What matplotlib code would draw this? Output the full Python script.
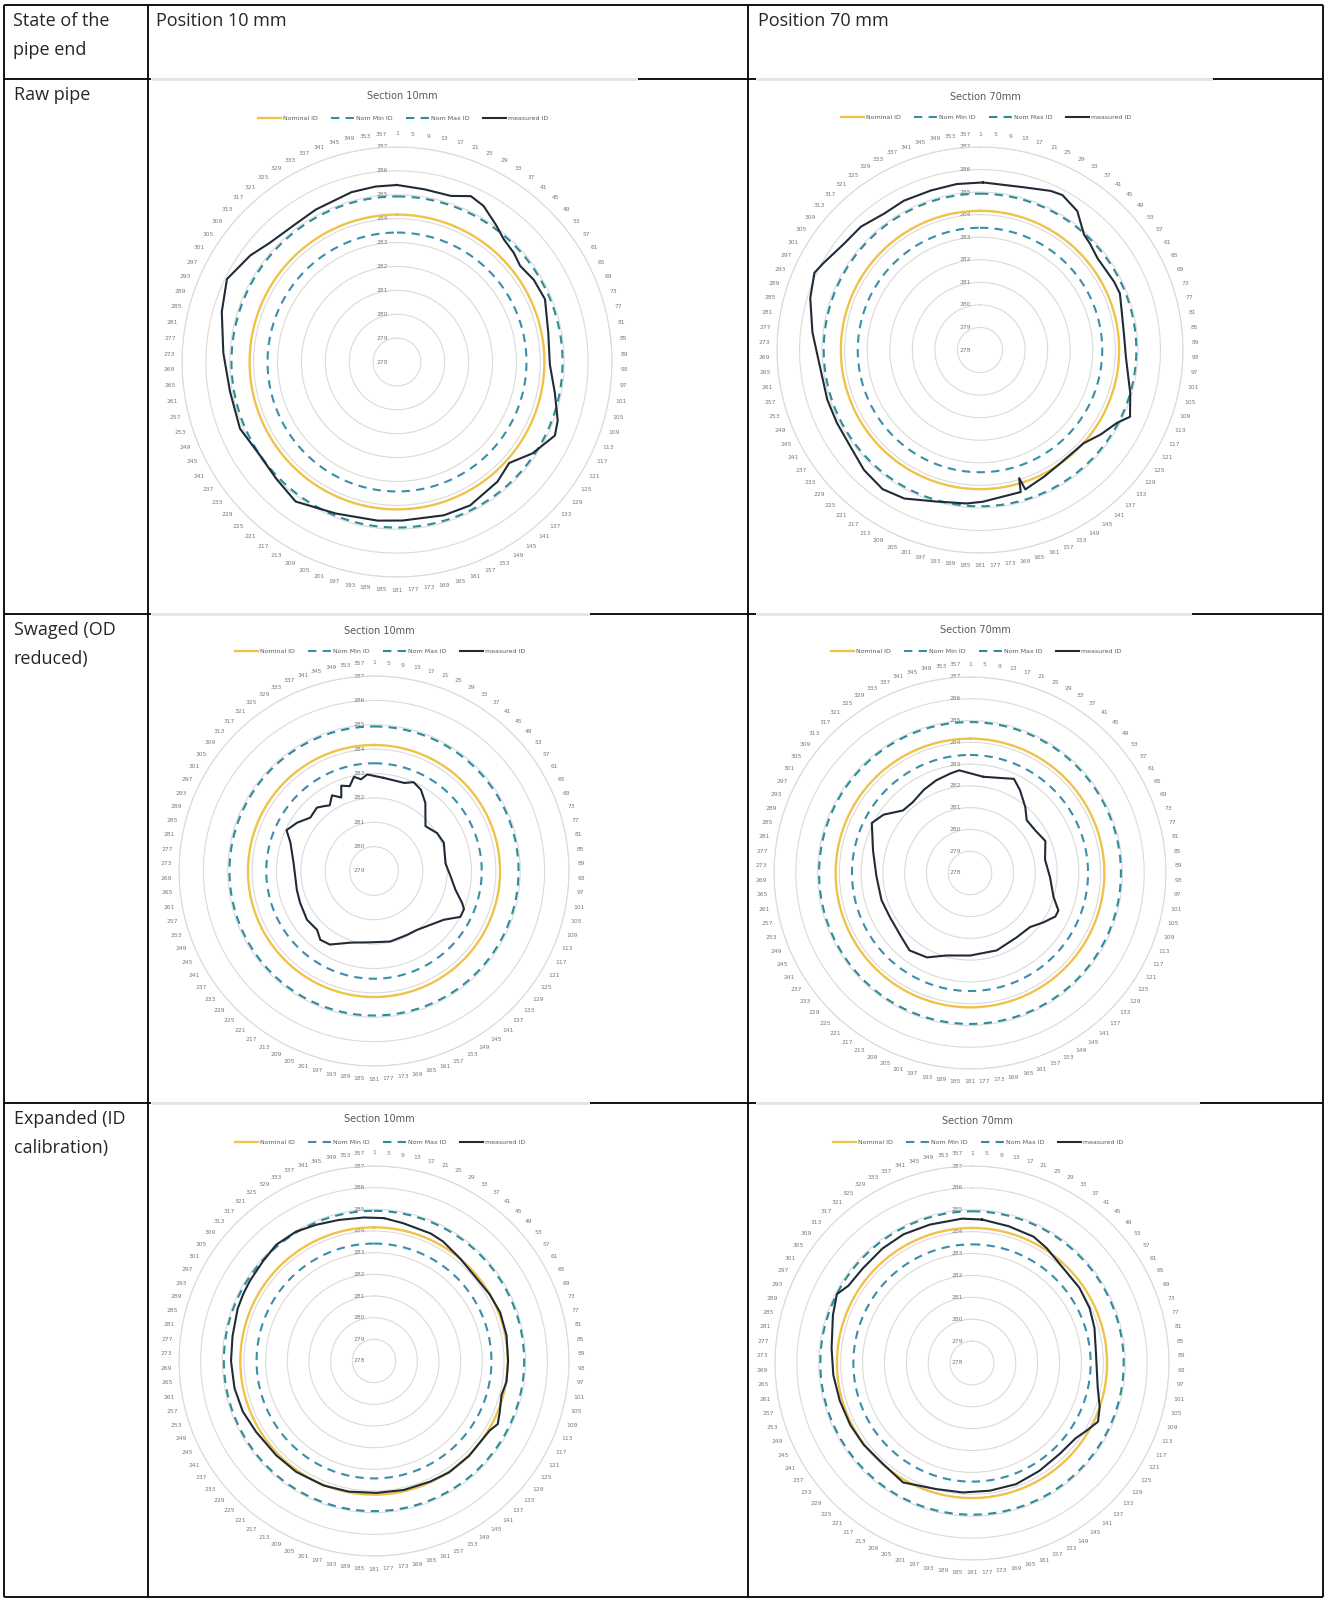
import numpy as np
import matplotlib
matplotlib.use("Agg")
import matplotlib.pyplot as plt
from matplotlib.lines import Line2D
from matplotlib.transforms import ScaledTranslation

# ---------------- data ----------------
col_headers = ["Position 10 mm", "Position 70 mm"]
corner_header = ["State of the", "pipe end"]
row_labels = [["Raw pipe"], ["Swaged (OD", "reduced)"], ["Expanded (ID", "calibration)"]]
chart_titles = ["Section 10mm", "Section 70mm"]
series_names = ["Nominal ID", "Nom Min ID", "Nom Max ID", "measured ID"]

category_labels = [str(k) for k in range(1, 361, 4)]   # 1, 5, 9, ... 357

nominal_id = 284.17
nom_min_id = 283.42
nom_max_id = 284.93

# radial axis ranges (min, max) per chart
raw_10_range = (278, 287)
raw_70_range = (278, 287)
swaged_10_range = (279, 287)
swaged_70_range = (278, 287)
exp_10_range = (278, 287)
exp_70_range = (278, 287)

# measured ID: angular category (deg) and value
raw_10_deg = [0, 9, 18, 24, 29, 36, 41, 47, 52, 59, 67, 79, 91, 101, 110, 115, 124, 132, 140,
              153, 163, 178, 187, 202, 216, 226, 236, 247, 260, 273, 286, 296, 306, 313, 323,
              332, 345, 353]
raw_10_val = [285.41, 285.32, 285.31, 285.60, 285.47, 285.07, 284.81, 284.69, 284.54, 284.68,
              284.73, 284.45, 284.40, 284.73, 285.16, 285.29, 284.84, 284.32, 284.54, 284.74,
              284.71, 284.64, 284.69, 284.84, 285.22, 285.03, 284.94, 285.14, 285.10, 285.28,
              285.63, 285.92, 285.59, 285.30, 285.17, 285.23, 285.36, 285.40]

raw_70_deg = [1, 15, 24, 28, 35, 42, 46, 52, 63, 68, 76, 84, 93, 106, 114, 118, 125, 132, 145,
              153, 162, 163, 164, 179, 185, 196, 207, 215, 224, 233, 243, 252, 263, 276, 287,
              295, 299, 308, 316, 325, 333, 343, 352]
raw_70_val = [285.43, 285.47, 285.72, 285.78, 285.52, 284.89, 284.78, 284.61, 284.67, 284.69,
              284.49, 284.42, 284.48, 284.93, 285.28, 284.88, 284.53, 284.18, 284.16, 284.29,
              284.50, 283.94, 284.55, 284.73, 284.83, 284.99, 285.39, 285.53, 285.40, 285.17,
              285.12, 285.12, 285.12, 285.47, 285.87, 286.10, 285.94, 285.65, 285.60, 285.39,
              285.43, 285.40, 285.43]

swaged_10_deg = [6, 19, 24, 30, 37, 49, 59, 68, 84, 94, 103, 110, 113, 118, 125, 134, 144, 153,
                 167, 183, 198, 211, 218, 224, 234, 247, 256, 276, 289, 295, 302, 310, 318, 322,
                 326, 331, 336, 339, 344, 348, 352, 356]
swaged_10_val = [282.84, 282.82, 282.99, 282.85, 282.50, 281.80, 282.02, 282.09, 281.95, 282.15,
                 282.43, 282.85, 283.01, 283.01, 282.49, 282.19, 281.99, 281.95, 281.97, 281.93,
                 282.09, 282.52, 282.58, 282.36, 282.40, 282.30, 282.26, 282.32, 282.63, 282.96,
                 282.73, 282.41, 282.50, 282.37, 282.25, 282.55, 282.30, 282.75, 282.62, 282.95,
                 282.80, 282.97]

swaged_70_deg = [8, 25, 31, 40, 47, 57, 67, 80, 93, 106, 113, 117, 124, 132, 144, 161, 180, 196,
                 207, 218, 227, 241, 253, 268, 283, 297, 304, 313, 321, 331, 340, 349, 354]
swaged_70_val = [282.46, 282.77, 282.45, 281.95, 281.56, 281.58, 281.76, 281.50, 281.68, 281.99,
                 282.41, 282.40, 282.06, 281.71, 281.65, 281.76, 281.79, 281.94, 282.35, 282.51,
                 282.31, 282.20, 282.25, 282.30, 282.57, 283.06, 282.79, 282.21, 282.18, 282.37,
                 282.53, 282.66, 282.74]

exp_10_deg = [4, 12, 24, 30, 40, 51, 60, 69, 79, 90, 99, 105, 112, 117, 121, 125, 135, 146, 155,
              167, 179, 191, 202, 215, 226, 239, 249, 259, 270, 280, 291, 297, 303, 312, 320,
              329, 337, 346, 356]
exp_10_val = [284.61, 284.50, 284.44, 284.37, 284.18, 284.08, 284.16, 284.24, 284.23, 284.19,
              284.19, 284.09, 284.26, 284.41, 284.23, 284.18, 284.20, 284.20, 284.14, 284.11,
              284.09, 284.14, 284.20, 284.25, 284.27, 284.35, 284.49, 284.56, 284.60, 284.63,
              284.74, 284.78, 284.82, 284.89, 285.01, 284.97, 284.83, 284.71, 284.64]

exp_70_deg = [4, 15, 26, 33, 44, 55, 65, 74, 86, 101, 109, 115, 121, 126, 136, 148, 160, 172,
              184, 196, 210, 221, 233, 243, 254, 265, 276, 289, 297, 302, 311, 322, 332, 343, 356]
exp_70_val = [284.57, 284.47, 284.42, 284.26, 284.01, 283.99, 283.93, 283.82, 283.68, 283.85,
              284.17, 284.35, 284.06, 283.85, 283.77, 283.81, 283.89, 283.89, 283.93, 283.99,
              284.30, 284.15, 284.20, 284.24, 284.28, 284.36, 284.45, 284.72, 284.93, 284.66,
              284.60, 284.64, 284.66, 284.61, 284.61]

# ---------------- styling / layout ----------------
W, H = 1328, 1600
fig = plt.figure(figsize=(W / 100, H / 100), dpi=100, facecolor="white")

C_NOM = "#F0C24B"
C_MIN = "#3A8EAB"
C_MAX = "#2E8B9A"
C_MEAS = "#1F2B37"
C_GRID = "#DADADA"
C_LBL = "#7A7A7A"
C_TITLE = "#595959"
TABLE_FONT = ["Open Sans", "DejaVu Sans"]


def fx(x):
    return x / W


def fy(y):
    return 1 - y / H


def draw_chart(cx, cy, R, rng, title, deg, val, title_y, legend_y, title_dx=5):
    rmin, rmax = rng
    ax = fig.add_axes([fx(cx - R), fy(cy + R), 2 * R / W, 2 * R / H], projection="polar")
    ax.set_facecolor("none")
    ax.set_theta_zero_location("N")
    ax.set_theta_direction(-1)
    ax.set_ylim(rmin, rmax)
    ax.set_yticks(np.arange(rmin, rmax + 1))
    ax.set_yticklabels([])
    ax.set_xticks([])
    ax.yaxis.grid(True, color=C_GRID, lw=0.8)
    ax.xaxis.grid(False)
    ax.spines["polar"].set_color(C_GRID)
    ax.spines["polar"].set_linewidth(0.8)

    th = np.linspace(0, 2 * np.pi, 721)
    h1, = ax.plot(th, np.full_like(th, nominal_id), color=C_NOM, lw=1.7, zorder=3)
    h2, = ax.plot(th, np.full_like(th, nom_min_id), color=C_MIN, lw=1.5,
                  linestyle=(0, (4, 3)), zorder=3)
    h3, = ax.plot(th, np.full_like(th, nom_max_id), color=C_MAX, lw=1.5,
                  linestyle=(0, (4, 3)), zorder=3)
    d = list(deg) + [deg[0] + 360]
    v = list(val) + [val[0]]
    h4, = ax.plot(np.deg2rad(d), v, color=C_MEAS, lw=1.5, zorder=4)

    # radial value labels (left of the vertical axis)
    off = ScaledTranslation(-9 / 100, 0, fig.dpi_scale_trans)
    for r in range(rmin, rmax + 1):
        ax.text(0, r, str(r), transform=ax.transData + off, ha="right", va="center",
                fontsize=4.3, color=C_LBL, zorder=2)

    # category labels
    ppu = R / (rmax - rmin)
    r_lab = rmax + 13 / ppu
    for lbl in category_labels:
        ang = np.deg2rad(int(lbl) - 1)
        ax.text(ang, r_lab, lbl, ha="center", va="center", fontsize=4.3, color=C_LBL,
                clip_on=False)

    fig.text(fx(cx + title_dx), fy(title_y), title, ha="center", va="center",
             fontsize=7, color=C_TITLE)
    ax.legend([h1, h2, h3, h4], series_names, loc="center",
              bbox_to_anchor=(fx(cx + title_dx + 1), fy(legend_y)),
              bbox_transform=fig.transFigure, ncol=4, frameon=False, fontsize=4.5,
              handlelength=3.7, handletextpad=0.3, columnspacing=2.1, labelcolor=C_TITLE)


draw_chart(397, 362, 215, raw_10_range, chart_titles[0], raw_10_deg, raw_10_val, 96, 118)
draw_chart(980, 350, 203, raw_70_range, chart_titles[1], raw_70_deg, raw_70_val, 97, 117)
draw_chart(374, 871, 195, swaged_10_range, chart_titles[0], swaged_10_deg, swaged_10_val, 631, 651)
draw_chart(970, 873, 196, swaged_70_range, chart_titles[1], swaged_70_deg, swaged_70_val, 630, 651)
draw_chart(374, 1361, 195, exp_10_range, chart_titles[0], exp_10_deg, exp_10_val, 1119, 1142)
draw_chart(972, 1363, 197, exp_70_range, chart_titles[1], exp_70_deg, exp_70_val, 1121, 1142)

# ---------------- table frame ----------------
BLACK_LW = 1.3


def hline(y, x0, x1, color="black", lw=BLACK_LW):
    fig.add_artist(Line2D([fx(x0), fx(x1)], [fy(y), fy(y)], transform=fig.transFigure,
                          color=color, lw=lw, solid_capstyle="butt"))


def vline(x, y0, y1):
    fig.add_artist(Line2D([fx(x), fx(x)], [fy(y0), fy(y1)], transform=fig.transFigure,
                          color="black", lw=BLACK_LW, solid_capstyle="butt"))


hline(5, 4, 1323)
hline(1597, 4, 1323)
for y, x_end1, x_end2 in [(79, 638, 1213), (614, 590, 1192), (1103, 590, 1200)]:
    hline(y, 4, 151)
    hline(y, 151, x_end1, color="#E4E4E4", lw=2.0)
    hline(y, x_end1, 756)
    hline(y, 756, x_end2, color="#E4E4E4", lw=2.0)
    hline(y, x_end2, 1323)
for x in (4, 148, 748, 1323):
    vline(x, 5, 1597)

# ---------------- table text ----------------
TXT = dict(fontsize=13, color="#262626", family=TABLE_FONT, ha="left", va="baseline")
fig.text(fx(13), fy(26), corner_header[0], **TXT)
fig.text(fx(13), fy(55), corner_header[1], **TXT)
fig.text(fx(156), fy(26), col_headers[0], **TXT)
fig.text(fx(758), fy(26), col_headers[1], **TXT)
for row_top, lines in zip([79, 614, 1103], row_labels):
    for i, line in enumerate(lines):
        fig.text(fx(14), fy(row_top + 21 + 29 * i), line, **TXT)

fig.savefig("out.png", dpi=100, facecolor="white")
